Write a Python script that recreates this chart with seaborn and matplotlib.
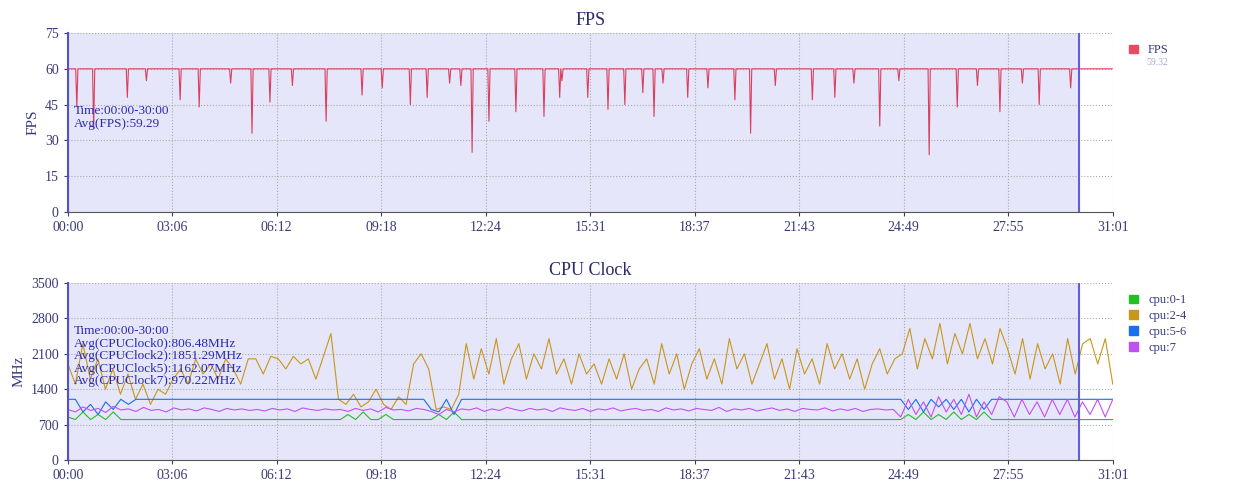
import numpy as np
import pandas as pd
import matplotlib
matplotlib.use("Agg")
import matplotlib.pyplot as plt
import seaborn as sns

TOTAL = 1861  # 31:01 in seconds
END = 1800    # 30:00
tick_labels = ["00:00","03:06","06:12","09:18","12:24","15:31","18:37","21:43","24:49","27:55","31:01"]

# FPS dips: (pixel-estimated time in seconds, fps value)
dip_times = [16, 46, 107, 200, 235, 328, 360, 460, 524, 610, 641, 721, 751, 799, 849, 876, 926,
             962, 993, 1025, 1044, 1104, 1188, 1216, 1327, 1366, 1446, 1535, 1585, 1660,
             1731, 1786, 140, 290, 400, 560, 680, 700, 880, 1060, 1140, 1260, 1400, 1480, 1620, 1700]
dip_values = [44, 35, 48, 47, 44, 33, 46, 38, 49, 45, 48, 25, 38, 42, 40, 48, 48,
              43, 45, 50, 40, 48, 47, 33, 47, 48, 36, 24, 44, 42,
              45, 52, 55, 54, 53, 52, 54, 53, 55, 54, 52, 53, 54, 55, 53, 54]
fps_avg_label = "59.32"

# CPU clocks, samples evenly spaced over 0..TOTAL
cpu24 = [1900,1500,2300,1600,2000,1400,1800,1300,1700,
         1200,1500,1100,1400,1300,1600,
         1800,1500,2000,1700,1900,1600,2000,1800,1500,2000,
         2000,1700,2050,2000,1800,2050,1900,2000,1600,2050,2500,
         1200,1100,1300,1050,1150,1400,1100,1000,1250,1100,1900,2100,
         1800,1000,1050,1000,1300,
         2300,1600,2200,1700,2400,1500,2000,2300,1600,2100,1800,2400,1700,
         2000,1500,2100,1700,1900,1500,2000,1600,2100,1400,1800,
         2000,1500,2300,1700,2100,1400,1900,2200,1600,2000,1500,2400,1800,2100,1500,1900,2300,
         1600,2000,1400,2200,1700,2000,1500,2300,1800,2100,1600,2000,1400,1900,2200,1700,2000,
         2100,2600,1800,2400,2000,2700,1900,2500,2100,2700,2000,2400,1900,2600,
         2200,1700,2400,1600,2300,1800,2100,1500,2400,1700,2300,2400,1900,2400,1500]
cpu7 = [1000,950,1050,980,1020,940,1060,990,1010,
        960,1040,980,1000,950,1030,
        990,1010,970,1030,1000,960,1020,990,1010,980,
        1000,970,1020,990,1010,960,1030,1000,980,1010,990,
        1000,960,1020,980,1010,950,1040,990,1000,970,1020,1000,
        960,900,1000,950,1010,
        990,1030,960,1010,980,1040,1000,970,1020,990,1010,960,1030,
        1000,980,1020,960,1010,990,1030,970,1000,1020,980,
        1000,960,1030,990,1010,970,1020,1000,980,1040,960,1010,990,1020,970,1000,1030,
        980,1010,960,1020,1000,990,1030,970,1010,980,1020,960,1000,1010,990,1000,
        850,1200,900,1150,850,1250,950,1200,900,1300,850,1150,900,1250,
        1150,850,1200,900,1150,850,1200,900,1200,850,1150,900,1200,850,1200]
cpu56 = [1200,1200,950,1100,900,1150,1000,1200,1100,
         1200,1200,1200,1200,1200,1200,
         1200,1200,1200,1200,1200,1200,1200,1200,1200,1200,
         1200,1200,1200,1200,1200,1200,1200,1200,1200,1200,1200,
         1200,1200,1200,1200,1200,1200,1200,1200,1200,1200,1200,1200,
         1000,950,1200,900,1200,
         1200,1200,1200,1200,1200,1200,1200,1200,1200,1200,1200,1200,1200,
         1200,1200,1200,1200,1200,1200,1200,1200,1200,1200,1200,
         1200,1200,1200,1200,1200,1200,1200,1200,1200,1200,1200,1200,1200,1200,1200,1200,1200,
         1200,1200,1200,1200,1200,1200,1200,1200,1200,1200,1200,1200,1200,1200,1200,1200,
         1200,1000,1200,950,1200,1050,1200,1000,1200,950,1200,1000,1200,1200,
         1200,1200,1200,1200,1200,1200,1200,1200,1200,1200,1200,1200,1200,1200,1200]
cpu01 = [850,800,950,800,900,800,950,800,800,
         800,800,800,800,800,800,
         800,800,800,800,800,800,800,800,800,800,
         800,800,800,800,800,800,800,800,800,800,800,
         800,900,800,950,800,800,900,800,800,800,800,800,
         800,900,800,950,800,
         800,800,800,800,800,800,800,800,800,800,800,800,800,
         800,800,800,800,800,800,800,800,800,800,800,
         800,800,800,800,800,800,800,800,800,800,800,800,800,800,800,800,800,
         800,800,800,800,800,800,800,800,800,800,800,800,800,800,800,800,
         800,900,800,950,800,900,800,950,800,900,800,950,800,800,
         800,800,800,800,800,800,800,800,800,800,800,800,800,800,800]
cpu_labels = ["cpu:0-1", "cpu:2-4", "cpu:5-6", "cpu:7"]
cpu_colors = ["#22c022", "#c8961a", "#1a6ef0", "#c050f0"]
cpu_annot = ["Time:00:00-30:00", "Avg(CPUClock0):806.48MHz", "Avg(CPUClock2):1851.29MHz",
             "Avg(CPUClock5):1162.07MHz", "Avg(CPUClock7):970.22MHz"]

font = "Liberation Serif"
txt = "#3a3a7a"
plt.rcParams["font.family"] = font

fig = plt.figure(figsize=(12.33, 5.0), dpi=100)
ax1 = fig.add_axes([0.055, 0.576, 0.8475, 0.358])
ax2 = fig.add_axes([0.055, 0.080, 0.8475, 0.354])

t_fps = np.arange(0, TOTAL + 1, 2)
fps = np.full(len(t_fps), 60.0)
for dt, dv in zip(dip_times, dip_values):
    idx = int(np.argmin(np.abs(t_fps - dt)))
    fps[idx] = dv
df_fps = pd.DataFrame({"t": t_fps, "fps": fps})

frames = []
for lab, vals in zip(cpu_labels, [cpu01, cpu24, cpu56, cpu7]):
    frames.append(pd.DataFrame({"t": np.linspace(0, TOTAL, len(vals)), "v": vals, "s": lab}))
df_cpu = pd.concat(frames, ignore_index=True)

ticks = np.linspace(0, TOTAL, 11)
for ax, ymax, yticks in [(ax1, 75, np.arange(0, 76, 15)), (ax2, 3500, np.arange(0, 3501, 700))]:
    ax.axvspan(0, END, color="#e6e6fa", zorder=0)
    ax.axvline(END, color="#6060d0", lw=1.5, zorder=5)
    ax.set_xlim(0, TOTAL)
    ax.set_ylim(0, ymax)
    ax.set_xticks(ticks)
    ax.set_xticklabels(tick_labels)
    ax.set_yticks(yticks)
    ax.grid(True, ls=":", color="#aaaaaa", lw=0.8)
    for s in ["top", "right"]:
        ax.spines[s].set_visible(False)
    ax.spines["left"].set_color("#5050d0")
    ax.spines["left"].set_linewidth(1.5)
    ax.spines["bottom"].set_color("#555555")
    ax.tick_params(colors=txt, labelsize=10, length=3)

sns.lineplot(data=df_fps, x="t", y="fps", ax=ax1, color="#d94060", lw=0.8, legend=False)
ax1.set_title("FPS", color="#2a2a6a", fontsize=13)
ax1.set_ylabel("FPS", color=txt, fontsize=11)
ax1.set_xlabel("")
ax1.text(0.006, 0.60, "Time:00:00-30:00\nAvg(FPS):59.29", transform=ax1.transAxes,
         color="#2a2ab0", fontsize=9.5, va="top", linespacing=1.1)
ax1.legend(handles=[plt.Rectangle((0, 0), 1, 1, color="#e84a64")], labels=["FPS"],
           loc="upper left", bbox_to_anchor=(1.005, 1.0), frameon=False, fontsize=9,
           handlelength=0.7, handleheight=0.7, labelcolor=txt)
fig.text(0.93, 0.87, fps_avg_label, color="#a8a8d8", fontsize=7)

sns.lineplot(data=df_cpu, x="t", y="v", hue="s", hue_order=cpu_labels, palette=cpu_colors,
             ax=ax2, lw=0.8, legend=False)
ax2.set_title("CPU Clock", color="#2a2a6a", fontsize=13)
ax2.set_ylabel("MHz", color=txt, fontsize=11)
ax2.set_xlabel("")
ax2.text(0.006, 0.76, "\n".join(cpu_annot), transform=ax2.transAxes,
         color="#2a2ab0", fontsize=9.5, va="top", linespacing=1.05)
ax2.legend(handles=[plt.Rectangle((0, 0), 1, 1, color=c) for c in cpu_colors], labels=cpu_labels,
           loc="upper left", bbox_to_anchor=(1.005, 1.0), frameon=False, fontsize=9,
           handlelength=0.7, handleheight=0.7, labelcolor=txt, labelspacing=0.3)

fig.savefig("out.png", dpi=100)
